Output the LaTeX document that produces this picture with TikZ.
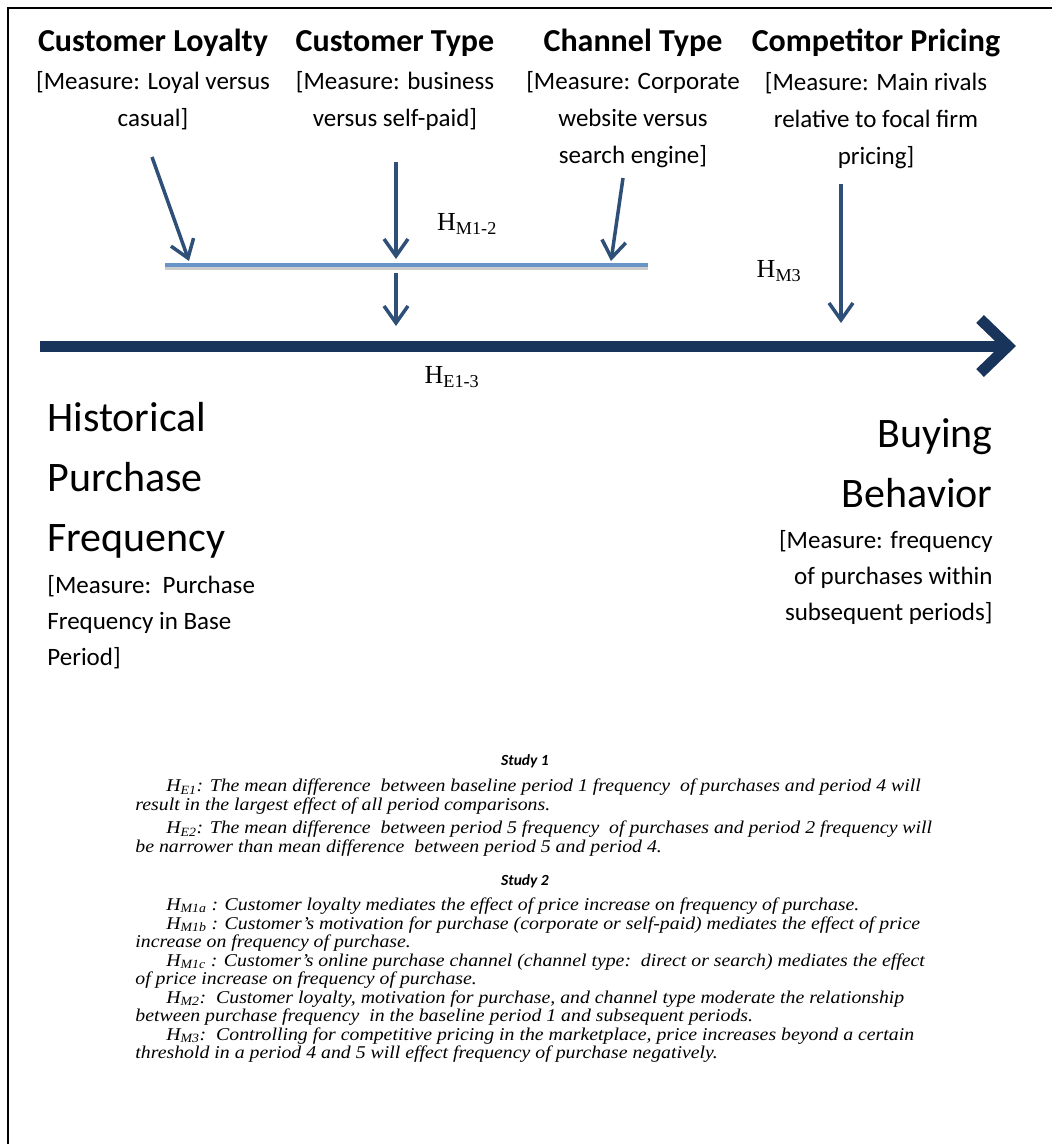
\documentclass[tikz,border=0pt]{standalone}
\usepackage{fontspec}
\setmainfont{Carlito}
\newfontfamily\timesfont{Liberation Serif}
\newfontfamily\hypfont[FakeStretch=1.1]{Liberation Serif}
\usetikzlibrary{arrows.meta, positioning}

\definecolor{navy}{HTML}{18345A}
\definecolor{arrowblue}{HTML}{2E4F77}
\definecolor{barblue}{HTML}{6894C8}

\begin{document}
\begin{tikzpicture}[x=1pt, y=-1pt, node distance=15pt, thick]
        % Define block styles
        \tikzstyle{factor} = [inner sep=0pt, anchor=base, font={\fontsize{32}{37}\selectfont\bfseries}]
        \tikzstyle{measure} = [inner sep=0pt, align=center, font={\fontsize{25}{37}\selectfont}]
        \tikzstyle{construct} = [inner sep=0pt, font={\fontsize{42}{60}\selectfont}]
        \tikzstyle{sidemeasure} = [inner sep=0pt, font={\fontsize{25}{36}\selectfont}]
        \tikzstyle{hlabel} = [inner sep=0pt, font={\timesfont\fontsize{26}{26}\selectfont}]
        \tikzstyle{study} = [inner sep=0pt, anchor=base, font={\fontsize{15.5}{18}\selectfont\bfseries\itshape}]
        \tikzstyle{hyp} = [inner sep=0pt, anchor=base west, align=left, font={\hypfont\itshape\fontsize{18}{18.5}\selectfont}]
        \tikzstyle{link} = [draw=arrowblue, line width=3.5pt, -{Straight Barb[length=17pt, width=24pt]}]
        \tikzstyle{timeline} = [draw=navy, line width=11pt, -{Straight Barb[length=28pt, width=54pt]}]
        \tikzstyle{bar} = [draw=barblue, line width=4pt]

        \useasboundingbox (0,0) rectangle (1052,1144);
        \draw[line width=2.7pt] (8,1144) -- (8,8) -- (1052,8);

        % Define nodes
        \node [factor] (loyal) at (153,51) {Customer Loyalty};
        \node [factor] (ctype) at (395,51) {Customer Type};
        \node [factor] (chan) at (633,51) {Channel Type};
        \node [factor] (comp) at (876,51) {Competitor Pricing};
        \node [measure, below=of loyal] (loyalM) {[Measure: Loyal versus\\casual]};
        \node [measure, below=of ctype] (ctypeM) {[Measure: business\\versus self-paid]};
        \node [measure, below=of chan] (chanM) {[Measure: Corporate\\website versus\\search engine]};
        \node [measure, below=of comp] (compM) {[Measure: Main rivals\\relative to focal firm\\pricing]};

        \node [hlabel] (hm12) at (467,224) {H\textsubscript{M1-2}};
        \node [hlabel] (hm3) at (779,271) {H\textsubscript{M3}};
        \node [hlabel] (he13) at (452,377) {H\textsubscript{E1-3}};

        \node [construct, anchor=base west, align=left] (hist) at (47,551) {Historical\\Purchase\\Frequency};
        \node [sidemeasure, anchor=base west, align=left] (histM) at (47,665) {[Measure:\ \ Purchase\\Frequency in Base\\Period]};
        \node [construct, anchor=base east, align=right] (buy) at (993,507) {Buying\\Behavior};
        \node [sidemeasure, anchor=base east, align=right] (buyM) at (993,620) {[Measure: frequency\\of purchases within\\subsequent periods]};

        \node [study] (study1) at (525,765) {Study 1};
        \node [hyp] (he1) at (135,810) {\hspace*{31pt}H\textsubscript{E1}: The mean difference\ \ between baseline period 1 frequency\ \ of purchases and period 4 will\\result in the largest effect of all period comparisons.};
        \node [hyp] (he2) at (135,852) {\hspace*{31pt}H\textsubscript{E2}: The mean difference\ \ between period 5 frequency\ \ of purchases and period 2 frequency will\\be narrower than mean difference\ \ between period 5 and period 4.};
        \node [study] (study2) at (525,885) {Study 2};
        \node [hyp] (hm1a) at (135,910) {\hspace*{31pt}H\textsubscript{M1a} : Customer loyalty mediates the effect of price increase on frequency of purchase.};
        \node [hyp] (hm1b) at (135,947.5) {\hspace*{31pt}H\textsubscript{M1b} : Customer’s motivation for purchase (corporate or self-paid) mediates the effect of price\\increase on frequency of purchase.};
        \node [hyp] (hm1c) at (135,984.5) {\hspace*{31pt}H\textsubscript{M1c} : Customer’s online purchase channel (channel type:\ \ direct or search) mediates the effect\\of price increase on frequency of purchase.};
        \node [hyp] (hm2) at (135,1021.5) {\hspace*{31pt}H\textsubscript{M2}:\ \ Customer loyalty, motivation for purchase, and channel type moderate the relationship\\between purchase frequency\ \ in the baseline period 1 and subsequent periods.};
        \node [hyp] (hm3t) at (135,1058.5) {\hspace*{31pt}H\textsubscript{M3}:\ \ Controlling for competitive pricing in the marketplace, price increases beyond a certain\\threshold in a period 4 and 5 will effect frequency of purchase negatively.};

        % Connect nodes with paths
        \coordinate (loyS) at (152,157);
        \coordinate (loyE) at (189,261);
        \coordinate (typS) at (396,162);
        \coordinate (typE) at (396,259);
        \coordinate (chaS) at (623,178);
        \coordinate (chaE) at (611,261);
        \coordinate (comS) at (841,184);
        \coordinate (comE) at (841,323);
        \coordinate (barW) at (165,265);
        \coordinate (barE) at (648,265);
        \coordinate (modS) at (396,273);
        \coordinate (modE) at (396,326);
        \coordinate (timeW) at (40,346);
        \coordinate (timeE) at (1016,346);

        \draw[black!20, line width=5pt] ([yshift=-2pt]barW) -- ([yshift=-2pt]barE);
        \draw[bar] (barW) -- (barE);
        \draw[link] (loyS) -- (loyE);
        \draw[link] (typS) -- (typE);
        \draw[link] (chaS) -- (chaE);
        \draw[link] (comS) -- (comE);
        \draw[link] (modS) -- (modE);
        \draw[timeline] (timeW) -- (timeE);

    \end{tikzpicture}
\end{document}
